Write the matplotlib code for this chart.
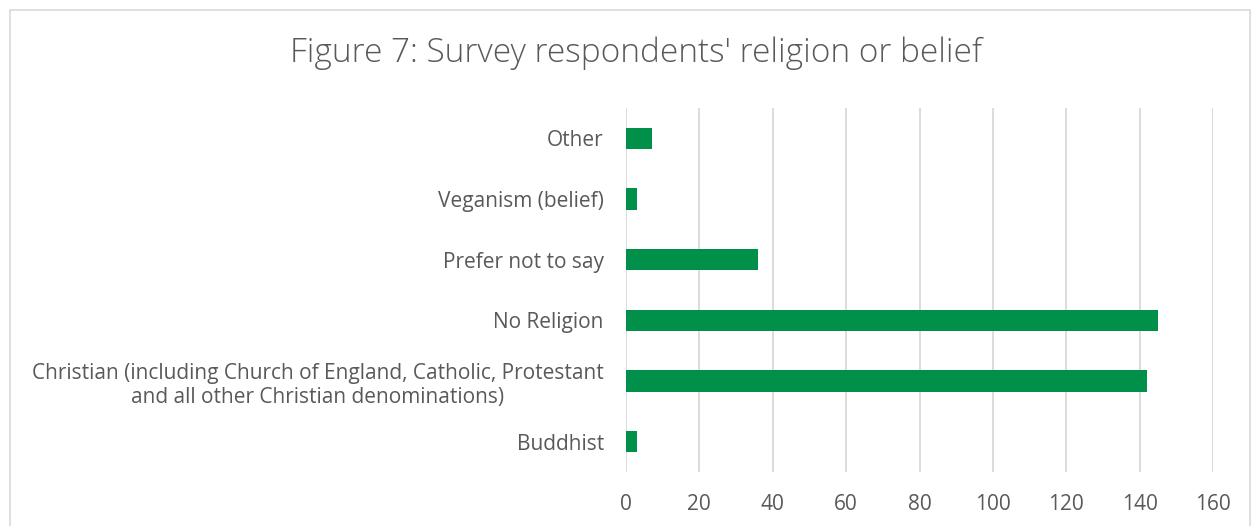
import matplotlib
matplotlib.use("Agg")
import matplotlib.pyplot as plt
from matplotlib.patches import Rectangle

categories = [
    "Buddhist",
    "Christian (including Church of England, Catholic, Protestant\nand all other Christian denominations)",
    "No Religion",
    "Prefer not to say",
    "Veganism (belief)",
    "Other",
]
counts = [3, 142, 145, 36, 3, 7]
x_ticks = [0, 20, 40, 60, 80, 100, 120, 140, 160]
title = "Figure 7: Survey respondents' religion or belief"

plt.rcParams["font.family"] = ["Open Sans", "DejaVu Sans"]

text_color = "#595959"
bar_color = "#00904A"
grid_color = "#D9D9D9"

W, H = 1260, 526
fig = plt.figure(figsize=(W / 100, H / 100), dpi=100)
fig.patch.set_facecolor("white")

# chart frame
fig.patches.append(Rectangle((10 / W, -0.05), (1250 - 10) / W, 1.05 - 10 / H,
                             transform=fig.transFigure, fill=False,
                             edgecolor="#D9D9D9", linewidth=1.2))

ax = fig.add_axes([626 / W, 1 - 472 / H, (1213 - 626) / W, (472 - 108) / H])
ypos = list(range(len(categories)))
ax.barh(ypos, counts, height=0.35, color=bar_color, zorder=3)
ax.set_ylim(-0.5, len(categories) - 0.5)
ax.set_xlim(0, 160)
ax.set_xticks(x_ticks)
ax.set_xticklabels([str(t) for t in x_ticks])
ax.set_yticks(ypos)
ax.set_yticklabels(categories, multialignment="center")
ax.tick_params(axis="both", length=0, labelsize=15, labelcolor=text_color)
ax.tick_params(axis="y", pad=16)
ax.tick_params(axis="x", pad=16)
ax.grid(axis="x", color=grid_color, linewidth=1.3, zorder=0)
for s in ax.spines.values():
    s.set_visible(False)

fig.text(636 / W, 1 - 53 / H, title, ha="center", va="center",
         fontsize=24, color=text_color, fontweight="light")

fig.savefig("out.png", dpi=100, facecolor="white")
